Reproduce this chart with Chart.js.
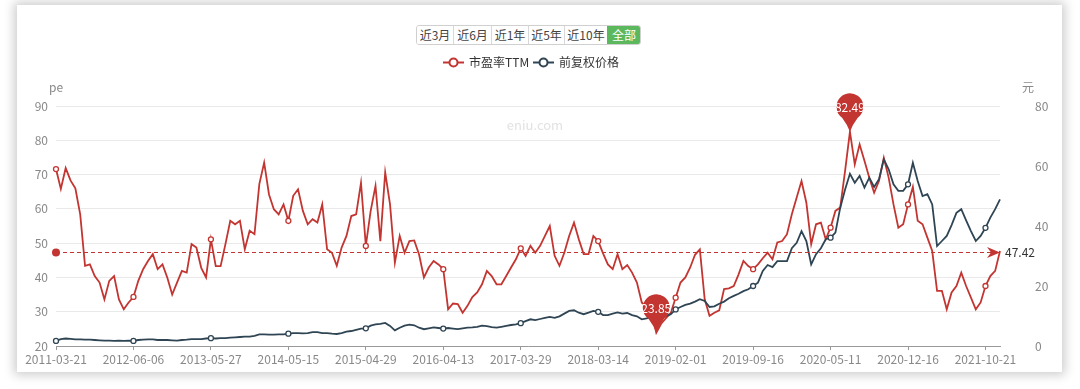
<!DOCTYPE html>
<html>
<head>
<meta charset="utf-8">
<script src="https://cdn.jsdelivr.net/npm/chart.js@4.4.0/dist/chart.umd.min.js"></script>
<style>
  html, body { margin:0; padding:0; background:#fff; width:1080px; height:389px; overflow:hidden; }
  #card { position:absolute; left:17px; top:5px; width:1045px; height:367px; background:#fff;
          box-shadow:0 0 10px 3px rgba(0,0,0,0.2); }
  #c { position:absolute; left:0; top:0; }
  #btns { position:absolute; left:416px; top:25px; display:flex; border:1px solid #d0d0d0; border-radius:3px;
          overflow:hidden; z-index:2; font-family:'Noto Sans CJK SC','Noto Sans',sans-serif; }
  #btns span { display:block; height:18px; line-height:18px; font-size:12px; color:#444; text-align:center;
               border-left:1px solid #d8d8d8; background:#fff; }
  #btns span:first-child { border-left:none; }
  #btns span.on { background:#5cb85c; color:#fff; border-left-color:#5cb85c; }
</style>
</head>
<body>
<div id="card"></div>
<canvas id="c" width="1080" height="389"></canvas>
<div id="btns">
  <span style="width:36px">近3月</span><span style="width:37px">近6月</span><span style="width:36px">近1年</span><span style="width:35px">近5年</span><span style="width:42px">近10年</span><span class="on" style="width:32px">全部</span>
</div>
<script>
const tickLabels = ['2011-03-21','2012-06-06','2013-05-27','2014-05-15','2015-04-29','2016-04-13','2017-03-29','2018-03-14','2019-02-01','2019-09-16','2020-05-11','2020-12-16','2021-10-21'];
const pointsPerTick = 16;

const peTTM = [
  71.6, 65.8, 71.9, 68.3, 66.0, 58.4, 43.4, 43.8, 40.4, 38.5,
  33.6, 39.0, 40.4, 33.6, 30.7, 32.7, 34.3, 39.0, 42.4, 44.8,
  46.8, 42.4, 43.8, 39.9, 35.0, 38.5, 41.9, 41.4, 49.7, 48.7,
  42.8, 40.0, 51.1, 43.3, 43.3, 49.7, 56.5, 55.5, 56.5, 48.2,
  53.6, 52.6, 67.2, 73.5, 64.2, 59.9, 58.4, 61.3, 56.5, 63.8,
  65.7, 59.4, 55.5, 57.0, 56.0, 61.3, 48.2, 47.2, 43.4, 48.7,
  52.1, 57.9, 58.4, 67.6, 49.2, 59.4, 66.7, 50.6, 70.6, 61.3,
  44.3, 52.1, 47.2, 50.6, 50.8, 46.7, 40.0, 42.9, 44.8, 43.8,
  42.4, 30.7, 32.4, 32.2, 29.7, 31.7, 34.3, 35.6, 38.0, 41.9,
  40.4, 38.0, 38.0, 40.4, 42.9, 45.3, 48.5, 46.3, 49.2, 47.2,
  49.2, 52.1, 55.0, 46.3, 43.4, 47.2, 52.1, 56.0, 51.1, 46.8,
  46.8, 52.1, 50.6, 47.0, 43.8, 42.4, 46.8, 42.4, 43.6, 41.4,
  38.5, 32.7, 31.2, 30.2, 23.85, 26.5, 28.1, 29.7, 34.1, 38.5,
  40.0, 42.9, 46.6, 48.2, 33.6, 28.8, 29.7, 30.4, 36.6, 36.8,
  37.5, 40.9, 44.8, 43.3, 42.4, 43.8, 45.6, 47.2, 45.3, 50.2,
  50.6, 52.6, 58.4, 63.3, 68.1, 61.8, 49.7, 55.5, 56.0, 51.1,
  54.5, 59.4, 60.4, 71.1, 82.49, 73.0, 78.8, 74.0, 69.1, 64.7,
  68.1, 74.9, 69.1, 61.3, 54.5, 55.5, 61.3, 66.4, 56.5, 55.5,
  51.6, 47.7, 36.1, 36.1, 30.7, 35.6, 37.5, 41.4, 37.5, 34.1,
  30.7, 32.7, 37.5, 40.4, 41.9, 47.7
];

const adjPrice = [
  1.7, 2.3, 2.5, 2.4, 2.2, 2.2, 2.1, 2.1, 2.0, 1.9,
  1.8, 1.8, 1.7, 1.8, 1.7, 1.8, 1.7, 2.0, 2.1, 2.2,
  2.2, 2.0, 2.0, 2.0, 1.9, 1.8, 2.0, 2.1, 2.3, 2.3,
  2.3, 2.5, 2.6, 2.5, 2.6, 2.6, 2.8, 2.9, 3.0, 3.1,
  3.1, 3.4, 3.9, 3.9, 3.8, 3.8, 3.9, 3.9, 4.1, 4.3,
  4.3, 4.2, 4.3, 4.6, 4.6, 4.3, 4.3, 4.1, 4.0, 4.3,
  4.8, 5.0, 5.4, 5.8, 5.9, 6.8, 7.2, 7.4, 7.7, 6.7,
  5.2, 6.1, 6.8, 7.1, 6.9, 6.1, 5.6, 5.9, 6.2, 6.0,
  5.8, 6.0, 5.8, 5.6, 5.9, 6.1, 6.2, 6.4, 6.8, 6.6,
  6.3, 6.1, 6.4, 6.7, 7.0, 7.2, 7.6, 8.3, 8.9, 8.6,
  9.0, 9.4, 9.7, 9.4, 9.9, 10.8, 11.7, 11.9, 11.1, 10.6,
  11.1, 11.7, 11.4, 10.3, 10.3, 10.8, 11.2, 10.8, 11.0, 10.3,
  9.9, 8.9, 9.2, 9.7, 9.7, 10.0, 10.0, 10.6, 12.2, 13.0,
  13.7, 14.1, 14.8, 15.6, 15.0, 13.0, 13.2, 14.1, 14.8, 15.9,
  16.7, 17.4, 18.3, 18.9, 20.0, 21.1, 25.0, 27.0, 26.3, 28.3,
  28.3, 28.3, 32.6, 34.4, 38.3, 35.0, 27.2, 30.6, 32.6, 35.6,
  36.1, 37.8, 46.1, 52.2, 57.4, 54.4, 56.7, 52.8, 56.1, 53.0,
  55.6, 62.2, 58.9, 53.9, 51.7, 51.7, 53.9, 61.1, 55.0, 50.0,
  50.6, 47.2, 33.3, 35.0, 36.7, 40.3, 44.4, 45.6, 41.9, 38.3,
  35.0, 36.7, 39.4, 42.8, 45.6, 48.9
];

const avgPe = 47.42;
const seriesNames = ['市盈率TTM', '前复权价格'];
const axisNames = ['pe', '元'];

const categories = peTTM.map((_, i) => (i % pointsPerTick === 0 ? (tickLabels[i / pointsPerTick] || '') : ''));

const FONT = "'Noto Sans CJK SC','Noto Sans',sans-serif";
const RED = '#c23531', DARK = '#2f4554';

function drawPin(ctx, x, y, text) {
  const r = 13.5, cy = y - 25, th = 0.62;
  ctx.beginPath();
  ctx.arc(x, cy, r, Math.PI / 2 + th, Math.PI / 2 - th, false);
  ctx.quadraticCurveTo(x + 2.5, y - 7, x, y);
  ctx.quadraticCurveTo(x - 2.5, y - 7, x - r * Math.sin(th), cy + r * Math.cos(th));
  ctx.closePath();
  ctx.fillStyle = RED;
  ctx.fill();
  ctx.fillStyle = '#fff';
  ctx.font = '12px ' + FONT;
  ctx.textAlign = 'center';
  ctx.textBaseline = 'middle';
  ctx.fillText(text, x, cy + 1);
}

const overlay = {
  id: 'overlay',
  beforeDatasetsDraw(chart) {
    const ctx = chart.ctx;
    ctx.save();
    ctx.fillStyle = '#e2e2e2';
    ctx.font = '13px ' + FONT;
    ctx.textAlign = 'center';
    ctx.textBaseline = 'middle';
    ctx.fillText('eniu.com', 535, 125);
    ctx.restore();
  },
  afterDatasetsDraw(chart) {
    const { ctx, chartArea: a, scales } = chart;
    const yl = scales.y, xs = scales.x;
    ctx.save();
    const ya = Math.round(yl.getPixelForValue(avgPe)) + 0.5;
    ctx.strokeStyle = RED; ctx.lineWidth = 1; ctx.setLineDash([4, 3]);
    ctx.beginPath(); ctx.moveTo(a.left, ya); ctx.lineTo(a.right - 8, ya); ctx.stroke();
    ctx.setLineDash([]);
    ctx.fillStyle = RED;
    ctx.beginPath(); ctx.arc(a.left, ya, 4, 0, Math.PI * 2); ctx.fill();
    ctx.beginPath();
    ctx.moveTo(a.right, ya); ctx.lineTo(a.right - 13, ya - 5.5); ctx.lineTo(a.right - 9, ya); ctx.lineTo(a.right - 13, ya + 5.5);
    ctx.closePath(); ctx.fill();
    ctx.fillStyle = '#333'; ctx.font = '12px ' + FONT; ctx.textAlign = 'left'; ctx.textBaseline = 'middle';
    ctx.fillText(avgPe.toFixed(2), a.right + 5, ya);
    let iMax = 0, iMin = 0;
    peTTM.forEach((v, i) => { if (v > peTTM[iMax]) iMax = i; if (v < peTTM[iMin]) iMin = i; });
    drawPin(ctx, xs.getPixelForValue(iMax), yl.getPixelForValue(peTTM[iMax]), peTTM[iMax].toFixed(2));
    drawPin(ctx, xs.getPixelForValue(iMin), yl.getPixelForValue(peTTM[iMin]), peTTM[iMin].toFixed(2));
    ctx.restore();
  },
  afterDraw(chart) {
    const ctx = chart.ctx;
    ctx.save();
    ctx.fillStyle = '#888'; ctx.font = '12px ' + FONT; ctx.textAlign = 'center'; ctx.textBaseline = 'middle';
    ctx.fillText(axisNames[0], chart.chartArea.left, 87);
    ctx.fillText(axisNames[1], 1028, 87);
    const items = [{ x: 443, color: RED, text: seriesNames[0] }, { x: 533, color: DARK, text: seriesNames[1] }];
    const ly = 62.5;
    items.forEach(it => {
      ctx.strokeStyle = it.color; ctx.lineWidth = 2;
      ctx.beginPath(); ctx.moveTo(it.x, ly); ctx.lineTo(it.x + 21, ly); ctx.stroke();
      ctx.beginPath(); ctx.arc(it.x + 10.5, ly, 4, 0, Math.PI * 2);
      ctx.fillStyle = '#fff'; ctx.fill(); ctx.stroke();
      ctx.fillStyle = '#333'; ctx.textAlign = 'left';
      ctx.fillText(it.text, it.x + 26, ly);
    });
    ctx.restore();
  }
};

const ptRadius = ctx => (ctx.dataIndex % pointsPerTick === 0 ? 2.5 : 0);

new Chart(document.getElementById('c'), {
  type: 'line',
  data: {
    labels: categories,
    datasets: [
      { label: seriesNames[0], data: peTTM, yAxisID: 'y', borderColor: RED, backgroundColor: RED,
        borderWidth: 1.8, tension: 0, pointRadius: ptRadius, pointBackgroundColor: '#fff', pointBorderColor: RED,
        pointBorderWidth: 1.3, order: 1 },
      { label: seriesNames[1], data: adjPrice, yAxisID: 'y1', borderColor: DARK, backgroundColor: DARK,
        borderWidth: 1.8, tension: 0, pointRadius: ptRadius, pointBackgroundColor: '#fff', pointBorderColor: DARK,
        pointBorderWidth: 1.3, order: 0 }
    ]
  },
  options: {
    responsive: false, animation: false, devicePixelRatio: 1,
    layout: { padding: { top: 106, left: 0, right: 0, bottom: 0 } },
    plugins: { legend: { display: false }, tooltip: { enabled: false } },
    scales: {
      x: {
        type: 'category', offset: false,
        grid: { display: true, drawOnChartArea: false, drawTicks: true, tickLength: 4, color: '#999' },
        border: { display: true, color: '#999' },
        ticks: { autoSkip: false, maxRotation: 0, minRotation: 0, padding: 2, color: '#888', font: { size: 12, family: FONT } },
        afterBuildTicks: s => { s.ticks = s.ticks.filter(t => t.value % pointsPerTick === 0); },
        afterFit: s => { s.height = 43; }
      },
      y: {
        position: 'left', min: 20, max: 90,
        ticks: { stepSize: 10, padding: 8, color: '#888', font: { size: 12, family: FONT } },
        grid: { color: '#e9e9e9', drawTicks: false },
        border: { display: false },
        afterFit: s => { s.width = 56; }
      },
      y1: {
        position: 'right', min: 0, max: 80,
        ticks: { stepSize: 20, padding: 35, color: '#888', font: { size: 12, family: FONT } },
        grid: { drawOnChartArea: false, drawTicks: false },
        border: { display: false },
        afterFit: s => { s.width = 80; }
      }
    }
  },
  plugins: [overlay]
});
</script>
</body>
</html>
